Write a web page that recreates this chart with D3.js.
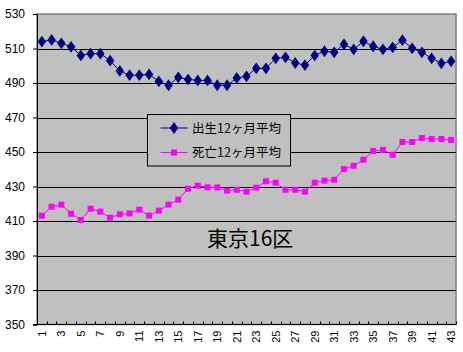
<!DOCTYPE html>
<html>
<head>
<meta charset="utf-8">
<script src="https://cdn.jsdelivr.net/npm/d3@7"></script>
<style>
body { margin: 0; background: #fff; }
</style>
</head>
<body>
<script>
// data
const months = d3.range(1, 44);
const births = [514, 515, 513, 511, 506, 507, 507, 503, 497, 494.5, 494.5, 495, 491,
    488.7, 493.3, 492.1, 491.5, 491.5, 488.7, 488.7, 492.9, 493.9, 498.5, 498.5, 504.3, 504.9, 501.6, 500.4,
    506, 508.4, 507.8, 512.4, 509.5, 514.2, 511.3, 509.5, 510.7, 514.8, 510.1, 507.8, 504.3, 501.4, 502.6];
const deaths = [413.1, 418.3, 419.5, 414.2, 410.6, 417.1, 415.4, 411.9, 413.9, 414.4, 416.6, 413.1, 416,
    419.5, 422.4, 428.7, 430.5, 429.5, 429.5, 427.6, 428.1, 427, 429.3, 433, 432.2, 428.1, 428.1, 427,
    432.2, 433.4, 433.9, 440.1, 442, 445.5, 450.6, 451.2, 448.4, 455.8, 455.8, 458.1, 457.5, 457.5, 456.9];
const yTicks = [350, 370, 390, 410, 430, 450, 470, 490, 510, 530];
const seriesNames = ["出生12ヶ月平均", "死亡12ヶ月平均"];

function main() {
    let width = 463;
    let height = 352;
    let left = 37, right = 456, top = 14, bottom = 324.5;

    let svg = d3.select("body").append("svg")
        .attr("width", width)
        .attr("height", height);

    let xScale = d3.scaleBand().domain(months).range([left, right]);
    let yScale = d3.scaleLinear().domain([350, 530]).range([bottom, top]);

    // plot area
    svg.append("rect")
        .attr("x", left).attr("y", top)
        .attr("width", right - left).attr("height", bottom - top)
        .attr("fill", "#c0c0c0")
        .attr("stroke", "#808080")
        .attr("stroke-width", 1.5);

    // gridlines
    svg.append("g")
        .selectAll("line")
        .data(yTicks.slice(1, -1))
        .enter()
        .append("line")
        .attr("x1", left).attr("x2", right)
        .attr("y1", d => Math.round(yScale(d)) + 0.5)
        .attr("y2", d => Math.round(yScale(d)) + 0.5)
        .attr("stroke", "#000")
        .attr("stroke-width", 1);

    // y axis
    let yAxis = svg.append("g")
        .attr("transform", "translate(" + left + ",0)")
        .call(d3.axisLeft(yScale).tickValues(yTicks).tickSize(4).tickPadding(8));
    yAxis.select(".domain").attr("stroke", "#000");
    yAxis.selectAll("text")
        .attr("font-family", "Liberation Sans, Arial, sans-serif")
        .attr("font-size", 12)
        .attr("fill", "#000");

    // x axis
    let xAxis = svg.append("g")
        .attr("transform", "translate(0," + bottom + ")");
    xAxis.append("line")
        .attr("x1", left - 4).attr("x2", right)
        .attr("y1", 0).attr("y2", 0)
        .attr("stroke", "#000");
    xAxis.selectAll("line.tick")
        .data(months)
        .enter()
        .append("line")
        .attr("class", "tick")
        .attr("x1", d => Math.round(xScale(d) + xScale.bandwidth()) + 0.5)
        .attr("x2", d => Math.round(xScale(d) + xScale.bandwidth()) + 0.5)
        .attr("y1", 0).attr("y2", -3)
        .attr("stroke", "#000");
    xAxis.selectAll("text")
        .data(months.filter(d => d % 2 === 1))
        .enter()
        .append("text")
        .attr("transform", d => "translate(" + (xScale(d) + xScale.bandwidth() / 2 + 4) + ",6) rotate(-90)")
        .attr("text-anchor", "end")
        .attr("font-family", "Liberation Sans, Arial, sans-serif")
        .attr("font-size", 11)
        .text(d => d);

    let cx = d => xScale(d) + xScale.bandwidth() / 2;
    let line = d3.line()
        .x((d, i) => cx(months[i]))
        .y(d => yScale(d));

    // births
    svg.append("path")
        .datum(births)
        .attr("d", line)
        .attr("fill", "none")
        .attr("stroke", "#000080")
        .attr("stroke-width", 1);
    svg.append("g")
        .selectAll("path")
        .data(births)
        .enter()
        .append("path")
        .attr("d", d3.symbol(d3.symbolDiamond, 40))
        .attr("transform", (d, i) => "translate(" + cx(months[i]) + "," + yScale(d) + ") scale(1.25,1)")
        .attr("fill", "#000080");

    // deaths
    svg.append("path")
        .datum(deaths)
        .attr("d", line)
        .attr("fill", "none")
        .attr("stroke", "#ff00ff")
        .attr("stroke-width", 1);
    svg.append("g")
        .selectAll("rect")
        .data(deaths)
        .enter()
        .append("rect")
        .attr("x", (d, i) => cx(months[i]) - 3)
        .attr("y", d => yScale(d) - 3)
        .attr("width", 6).attr("height", 6)
        .attr("fill", "#ff00ff");

    // legend
    let legend = svg.append("g");
    legend.append("rect")
        .attr("x", 147.5).attr("y", 114.5)
        .attr("width", 143).attr("height", 51.5)
        .attr("fill", "#c0c0c0")
        .attr("stroke", "#000");
    let rows = [
        {name: seriesNames[0], color: "#000080", y: 128},
        {name: seriesNames[1], color: "#ff00ff", y: 152.5}
    ];
    rows.forEach(function(r, i) {
        legend.append("line")
            .attr("x1", 160.5).attr("x2", 187.5)
            .attr("y1", r.y).attr("y2", r.y)
            .attr("stroke", r.color);
        if (i === 0) {
            legend.append("path")
                .attr("d", d3.symbol(d3.symbolDiamond, 40))
                .attr("transform", "translate(174," + r.y + ") scale(1.25,1)")
                .attr("fill", r.color);
        } else {
            legend.append("rect")
                .attr("x", 171).attr("y", r.y - 3)
                .attr("width", 6).attr("height", 6)
                .attr("fill", r.color);
        }
        legend.append("text")
            .attr("x", 192)
            .attr("y", r.y + 4.5)
            .attr("font-family", "Noto Sans CJK JP, sans-serif")
            .attr("font-size", 12.5)
            .attr("fill", "#000")
            .text(r.name);
    });

    // title inside plot
    svg.append("text")
        .attr("x", 207)
        .attr("y", 246)
        .attr("font-family", "Noto Sans CJK JP, sans-serif")
        .attr("font-size", 21)
        .attr("fill", "#000")
        .text("東京16区");
}

main();
</script>
</body>
</html>
